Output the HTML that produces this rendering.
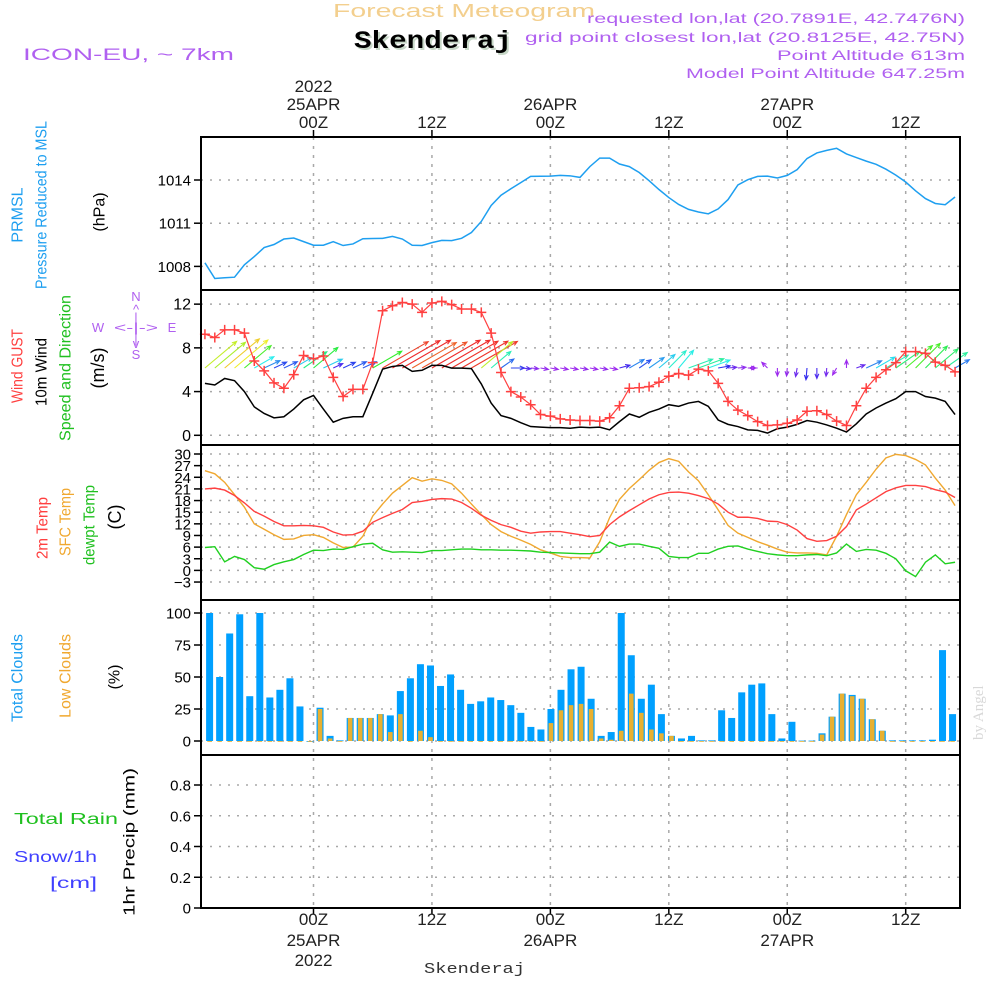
<!DOCTYPE html>
<html><head><meta charset="utf-8"><title>Skenderaj meteogram</title>
<style>
html,body{margin:0;padding:0;background:#fff;}
svg{display:block;font-family:"Liberation Sans",sans-serif;}
</style></head>
<body>
<svg id="chart" width="1000" height="1000" viewBox="0 0 1000 1000" xmlns="http://www.w3.org/2000/svg">
<rect x="0" y="0" width="1000" height="1000" fill="#fff"/>
<!-- header -->
<text x="333" y="17" font-size="18" fill="#f3cf8e" textLength="262" lengthAdjust="spacingAndGlyphs">Forecast Meteogram</text>
<text x="356" y="50" font-family="Liberation Mono,monospace" font-weight="bold" font-size="25" fill="#c8d8c8" textLength="158" lengthAdjust="spacingAndGlyphs">Skenderaj</text>
<text x="354" y="48" font-family="Liberation Mono,monospace" font-weight="bold" font-size="25" fill="#000" textLength="158" lengthAdjust="spacingAndGlyphs">Skenderaj</text>
<text x="23" y="60" font-size="17" fill="#b060f0" textLength="211" lengthAdjust="spacingAndGlyphs">ICON-EU, ~ 7km</text>
<text x="587" y="23" font-size="14" fill="#b060f0" textLength="378" lengthAdjust="spacingAndGlyphs">requested lon,lat (20.7891E, 42.7476N)</text>
<text x="525" y="42" font-size="14" fill="#b060f0" textLength="440" lengthAdjust="spacingAndGlyphs">grid point closest lon,lat (20.8125E, 42.75N)</text>
<text x="777" y="60" font-size="14" fill="#b060f0" textLength="188" lengthAdjust="spacingAndGlyphs">Point Altitude 613m</text>
<text x="686" y="78" font-size="14" fill="#b060f0" textLength="279" lengthAdjust="spacingAndGlyphs">Model Point Altitude 647.25m</text>
<!-- left labels -->
<g font-size="16" dominant-baseline="central" text-anchor="middle">
<text transform="translate(18,215) rotate(-90)" fill="#1e9ff0">PRMSL</text>
<text transform="translate(42,205) rotate(-90)" fill="#1e9ff0" textLength="168" lengthAdjust="spacingAndGlyphs">Pressure Reduced to MSL</text>
<text transform="translate(100,212) rotate(-90)" fill="#000">(hPa)</text>
<text transform="translate(18,366) rotate(-90)" fill="#ff4040" textLength="74" lengthAdjust="spacingAndGlyphs">Wind GUST</text>
<text transform="translate(42,372) rotate(-90)" fill="#000" textLength="68" lengthAdjust="spacingAndGlyphs">10m Wind</text>
<text transform="translate(66,368) rotate(-90)" fill="#20c020" textLength="146" lengthAdjust="spacingAndGlyphs">Speed and Direction</text>
<text transform="translate(98,368) rotate(-90)" fill="#000" font-size="18">(m/s)</text>
<text transform="translate(43,528) rotate(-90)" fill="#ff4040" textLength="62" lengthAdjust="spacingAndGlyphs">2m Temp</text>
<text transform="translate(66,522) rotate(-90)" fill="#f0a830" textLength="68" lengthAdjust="spacingAndGlyphs">SFC Temp</text>
<text transform="translate(90,525) rotate(-90)" fill="#20c020" textLength="80" lengthAdjust="spacingAndGlyphs">dewpt Temp</text>
<text transform="translate(115,517) rotate(-90)" fill="#000" font-size="18">(C)</text>
<text transform="translate(18,678) rotate(-90)" fill="#1e9ff0" textLength="88" lengthAdjust="spacingAndGlyphs">Total Clouds</text>
<text transform="translate(66,676) rotate(-90)" fill="#f0a830" textLength="84" lengthAdjust="spacingAndGlyphs">Low Clouds</text>
<text transform="translate(115,677) rotate(-90)" fill="#000">(%)</text>
<text transform="translate(130,842) rotate(-90)" fill="#000" textLength="148" lengthAdjust="spacingAndGlyphs">1hr Precip (mm)</text>
</g>
<text x="14" y="824" font-size="16" fill="#20c020" textLength="104" lengthAdjust="spacingAndGlyphs">Total  Rain</text>
<text x="14" y="862" font-size="16" fill="#4040ff" textLength="83" lengthAdjust="spacingAndGlyphs">Snow/1h</text>
<text x="50" y="888" font-size="16" fill="#4040ff" textLength="47" lengthAdjust="spacingAndGlyphs">[cm]</text>
<!-- compass -->
<g fill="#b060f0" font-size="13" text-anchor="middle">
<text x="136" y="301">N</text><text x="136" y="314">^</text><text x="136" y="322">|</text>
<text x="98" y="332">W</text><text x="136" y="332" textLength="44" lengthAdjust="spacingAndGlyphs">&lt;-|-&gt;</text><text x="172" y="332">E</text>
<text x="136" y="343">|</text><text x="136" y="348">v</text><text x="136" y="359">S</text>
</g>
<text transform="translate(983,740) rotate(-90)" font-family="Liberation Serif,serif" font-size="15" fill="#d8d8d8">by Angel</text>
<text x="424" y="973" font-family="Liberation Mono,monospace" font-size="15" fill="#333" textLength="101" lengthAdjust="spacingAndGlyphs">Skenderaj</text>
<g id="grid"></g>
<g id="marks"></g>
<g id="frame"></g>
<g id="labels"></g>
</svg>
<script>
// ---------- data (hourly, t = hours from 25APR 00Z) ----------
const hours = [-11,-10,-9,-8,-7,-6,-5,-4,-3,-2,-1,0,1,2,3,4,5,6,7,8,9,10,11,12,13,14,15,16,17,18,19,20,21,22,23,24,25,26,27,28,29,30,31,32,33,34,35,36,37,38,39,40,41,42,43,44,45,46,47,48,49,50,51,52,53,54,55,56,57,58,59,60,61,62,63,64,65];
const pressure = [1008.25,1007.16,1007.21,1007.25,1008.11,1008.68,1009.31,1009.52,1009.90,1009.97,1009.72,1009.47,1009.47,1009.72,1009.45,1009.56,1009.92,1009.94,1009.95,1010.08,1009.90,1009.47,1009.45,1009.65,1009.81,1009.79,1009.95,1010.35,1011.12,1012.23,1012.94,1013.39,1013.82,1014.25,1014.26,1014.27,1014.32,1014.29,1014.18,1014.93,1015.52,1015.52,1015.11,1014.93,1014.52,1013.95,1013.34,1012.78,1012.30,1011.96,1011.78,1011.65,1011.99,1012.64,1013.66,1014.02,1014.25,1014.27,1014.14,1014.32,1014.72,1015.49,1015.88,1016.06,1016.20,1015.81,1015.56,1015.31,1015.09,1014.75,1014.34,1013.86,1013.25,1012.71,1012.37,1012.28,1012.82];
const windGust = [9.25,8.95,9.65,9.65,9.35,6.8,5.9,4.8,4.3,5.55,7.3,7.0,7.25,5.3,3.55,4.2,4.2,6.65,11.4,11.85,12.15,12.0,11.25,12.1,12.25,11.95,11.55,11.55,11.25,9.35,5.75,4.0,3.5,2.8,1.9,1.75,1.5,1.4,1.35,1.35,1.3,1.6,2.7,4.3,4.35,4.45,4.85,5.4,5.65,5.5,6.05,5.9,4.75,3.1,2.3,1.8,1.25,0.9,0.95,1.1,1.4,2.2,2.25,1.9,1.3,0.9,2.7,4.3,5.3,6.0,6.65,7.65,7.65,7.5,6.7,6.4,5.8];
const wind10m = [4.75,4.6,5.2,5.0,4.0,2.6,2.0,1.6,1.7,2.4,3.25,3.65,2.4,1.2,1.55,1.7,1.7,3.85,6.05,6.3,6.4,5.85,5.95,6.4,6.4,6.15,6.15,6.1,4.7,2.95,1.8,1.55,1.15,0.8,0.75,0.7,0.7,0.65,0.75,0.7,0.75,0.5,1.25,1.95,1.65,2.1,2.4,2.8,2.65,2.95,3.1,2.65,1.4,1.0,0.8,0.5,0.45,0.2,0.6,0.75,1.0,1.35,1.2,0.95,0.65,0.3,1.05,1.95,2.5,2.95,3.35,4.0,4.0,3.55,3.4,3.1,1.9];
const windDir = [40,40,40,40,40,30,25,25,25,30,35,40,25,25,25,25,25,30,30,30,30,30,30,30,30,30,30,30,40,40,35,0,-5,-5,-10,-10,-10,-10,-10,-10,-10,-10,15,30,35,35,40,45,50,20,20,20,10,5,5,0,180,135,-90,-95,-100,-95,-90,-95,-120,90,20,25,30,30,35,40,45,45,40,35,30];
const temp2m = [21.0,21.2,20.7,19.3,17.4,15.2,14.0,12.6,11.5,11.5,11.6,11.5,11.1,9.9,9.1,9.2,10.1,12.4,13.6,14.7,15.7,17.5,17.8,18.3,18.5,18.4,17.5,16.0,14.2,12.9,11.8,11.1,10.1,9.6,9.9,10.0,10.0,9.6,9.2,8.7,9.0,11.8,13.8,15.4,16.9,18.4,19.5,20.1,20.2,19.9,19.3,18.5,17.1,15.0,13.7,13.7,13.4,12.7,12.6,11.8,10.4,8.2,7.5,7.7,8.8,11.3,15.6,17.1,18.7,20.3,21.3,21.9,21.9,21.6,20.8,20.2,18.8];
const tempSfc = [25.7,24.9,22.7,19.5,16.3,12.0,10.6,9.2,8.0,8.1,9.0,9.2,8.5,7.1,5.9,6.0,8.8,14.0,17.1,19.9,21.9,23.9,23.0,23.6,23.2,22.3,19.9,17.1,14.4,11.8,10.0,8.8,7.8,6.7,5.3,4.5,3.6,3.3,3.3,3.2,7.4,13.6,18.3,21.1,23.4,25.8,27.8,28.8,28.1,25.4,23.1,19.5,15.6,11.6,9.6,8.5,7.4,6.5,5.5,4.7,4.5,4.5,4.4,4.0,8.8,14.4,19.5,22.7,26.1,29.0,29.9,29.6,28.6,27.2,23.8,20.7,16.7];
const dewpt = [5.9,6.1,2.2,3.6,2.8,0.7,0.3,1.5,2.2,2.8,4.1,5.2,5.1,5.5,5.4,6.1,6.8,7.0,5.3,4.7,4.8,4.7,4.6,5.1,5.1,5.3,5.5,5.5,5.3,5.3,5.2,5.2,5.1,5.0,4.7,4.6,4.5,4.4,4.3,4.3,4.7,7.3,6.2,6.8,6.8,6.2,5.7,3.6,3.3,3.3,4.4,4.4,5.5,6.2,6.3,5.5,4.9,4.3,4.0,3.8,3.8,4.0,4.1,3.8,4.5,6.8,4.9,5.4,5.2,4.4,3.0,-0.1,-1.6,2.1,4.0,1.7,2.1];
const totalClouds = [100,50,84,99,35,100,34,40,49,27,0,26,4,0.5,18,18,18,21,20,39,49,60,59,43,52,40,29,31,34,32,28,22,11,9,25,40,56,58,33,4,7,100,67,33,44,21,4,2,4,0.5,0.5,24,18,38,44,45,21,2,15,0.3,0.3,6,19,37,36,33,17,8,0.5,0.5,0.5,0.5,1,71,21];
const lowClouds = [0,0,0,0,0,0,0,0,0,0,0,25,2,0,18,18,18,21,7,21,0,8,3,0,0,0,0,0,0,0,0,0,0,0,14,24,28,29,25,2,1,8,37,22,9,6,4,0,0,0,0,0,0,0,0,0,0,0,0,0,0,5,19,37,35,33,17,8,0,0,0,0,0,0,0];
const precip = hours.map(() => 0);
const pressureTicks = [1008,1011,1014];
const windTicks = [0,4,8,12];
const tempTicks = [-3,0,3,6,9,12,15,18,21,24,27,30];
const cloudTicks = [0,25,50,75,100];
const precipTicks = [0,0.2,0.4,0.6,0.8];
const timeTicks = [0,12,24,36,48,60];
const timeLabels = ["00Z","12Z","00Z","12Z","00Z","12Z"];
const dateLabels = ["25APR","","26APR","","27APR",""];
const yearLabels = ["2022","","","","",""];

// ---------- scales ----------
const X0 = 201, X1 = 960;
const panels = {p:[137,290], w:[290,445], t:[445,600], c:[600,755], r:[755,908]};
function xT(t){ return 313.5 + 9.87*t; }
function yP(v){ return 180 + (1014 - v)*14.4; }
function yW(v){ return 435.3 - v*10.93; }
function yT(v){ return 570.4 - v*3.88; }
function yC(v){ return 741 - v*1.28; }
function yR(v){ return 908 - v*153.75; }
function barX(i){ return 209.6 + i*10.04; }

const NS = "http://www.w3.org/2000/svg";
function mk(tag, attrs, parent){
  const e = document.createElementNS(NS, tag);
  for (const k in attrs) e.setAttribute(k, attrs[k]);
  parent.appendChild(e); return e;
}
const grid = document.getElementById('grid');
const marks = document.getElementById('marks');
const frame = document.getElementById('frame');
const labels = document.getElementById('labels');

function yAxis(ticks, yf, name, fmt, fs){
  ticks.forEach(v => {
    const y = yf(v);
    const g = mk('line', {x1:X0, x2:X1, y1:y, y2:y, stroke:'#a8a8a8', 'stroke-width':1.5, 'stroke-dasharray':'2,7'}, grid);
    
    
    const tk = mk('line', {x1:X0-7, x2:X0, y1:y, y2:y, stroke:'#000', 'stroke-width':1.5}, frame);
    
    
    const tx = mk('text', {x:X0-10, y:y+5.5, 'text-anchor':'end', 'font-size':fs, fill:'#000'}, labels);
    
    
    tx.textContent = fmt(v);
  });
}
yAxis(pressureTicks, yP, 'pressure-y', v => String(v), 15);
yAxis(windTicks, yW, 'wind-y', v => String(v), 16);
yAxis(tempTicks, yT, 'temp-y', v => (v<0?'\u2212'+(-v):String(v)), 15);
yAxis(cloudTicks, yC, 'cloud-y', v => String(v), 15);
yAxis(precipTicks, yR, 'precip-y', v => (v===0?'0':v.toFixed(1)), 15);

timeTicks.forEach((t,i) => {
  const x = xT(t);
  const v = mk('line', {x1:x, x2:x, y1:137, y2:908, stroke:'#a8a8a8', 'stroke-width':1.5, 'stroke-dasharray':'3,6'}, grid);
  
  
  const t1 = mk('line', {x1:x, x2:x, y1:130, y2:137, stroke:'#000', 'stroke-width':1.5}, frame);
  
  
  const t2 = mk('line', {x1:x, x2:x, y1:908, y2:914, stroke:'#000', 'stroke-width':1.5}, frame);
  
  
  [[timeLabels[i],128],[dateLabels[i],110],[yearLabels[i],92]].forEach(([s,y]) => {
    if(!s) return;
    const e = mk('text', {x:x, y:y, 'text-anchor':'middle', 'font-size':17, fill:'#222'}, labels);
    
    
    e.textContent = s;
  });
  [[timeLabels[i],925],[dateLabels[i],946],[yearLabels[i],966]].forEach(([s,y]) => {
    if(!s) return;
    const e = mk('text', {x:x, y:y, 'text-anchor':'middle', 'font-size':17, fill:'#222'}, labels);
    
    
    e.textContent = s;
  });
});

function linePath(vals, yf){
  return vals.map((v,i) => (i?'L':'M') + xT(hours[i]).toFixed(2) + ',' + yf(v).toFixed(2)).join('');
}
const pl = mk('path', {d:linePath(pressure, yP), fill:'none', stroke:'#1e9ff0', 'stroke-width':1.5}, marks);



// wind arrows
wind10m.forEach((s,i) => {
  const x = xT(hours[i]), y = 368;
  const len = Math.max(8, 8.7*s);
  const a = windDir[i]*Math.PI/180;
  const x2 = x + len*Math.cos(a), y2 = y - len*Math.sin(a);
  const hue = Math.min(275, Math.max(0, 310 - 50*s));
  const col = 'hsl(' + hue + ',85%,55%)';
  const ah = 5, sp = 0.4;
  const hx1 = x2 - ah*Math.cos(a - sp), hy1 = y2 + ah*Math.sin(a - sp);
  const hx2 = x2 - ah*Math.cos(a + sp), hy2 = y2 + ah*Math.sin(a + sp);
  const p = mk('path', {d:'M'+x+','+y+'L'+x2+','+y2+'M'+hx1+','+hy1+'L'+x2+','+y2+'L'+hx2+','+hy2, fill:'none', stroke:col, 'stroke-width':1.1}, marks);
  
  
});
const wl = mk('path', {d:linePath(wind10m, yW), fill:'none', stroke:'#000', 'stroke-width':1.5}, marks);


const gl = mk('path', {d:linePath(windGust, yW), fill:'none', stroke:'#ff4040', 'stroke-width':1.2}, marks);


windGust.forEach((v,i) => {
  const x = xT(hours[i]), y = yW(v);
  const c = mk('path', {d:'M'+(x-5)+','+y+'L'+(x+5)+','+y+'M'+x+','+(y-5)+'L'+x+','+(y+5), stroke:'#ff4040', 'stroke-width':1.5}, marks);
  
  
});

[[tempSfc,'#f0a830','sfc-temp-line'],[temp2m,'#ff4040','temp-2m-line'],[dewpt,'#20d020','dewpt-line']].forEach(([arr,col,nm]) => {
  const l = mk('path', {d:linePath(arr, yT), fill:'none', stroke:col, 'stroke-width':1.4}, marks);
  
  
});

totalClouds.forEach((v,i) => {
  const cx = barX(i);
  const b = mk('rect', {x:cx-3.5, y:yC(v), width:7, height:Math.max(0.8, yC(0)-yC(v)), fill:'#00a0ff'}, marks);
  
  
  const lv = lowClouds[i];
  const lb = mk('rect', {x:cx-2.3, y:yC(lv), width:4.6, height:Math.max(0.8, yC(0)-yC(lv)), fill:'#e8b030'}, marks);
  
  
});

const prl = mk('path', {d:linePath(precip, yR), fill:'none', stroke:'#000', 'stroke-width':1.5, 'stroke-dasharray':'5,2'}, marks);



Object.keys(panels).forEach(k => {
  const [a,b] = panels[k];
  const r = mk('rect', {x:X0, y:a, width:X1-X0, height:b-a, fill:'none', stroke:'#000', 'stroke-width':2}, frame);
  
  
});
</script>
</body></html>
